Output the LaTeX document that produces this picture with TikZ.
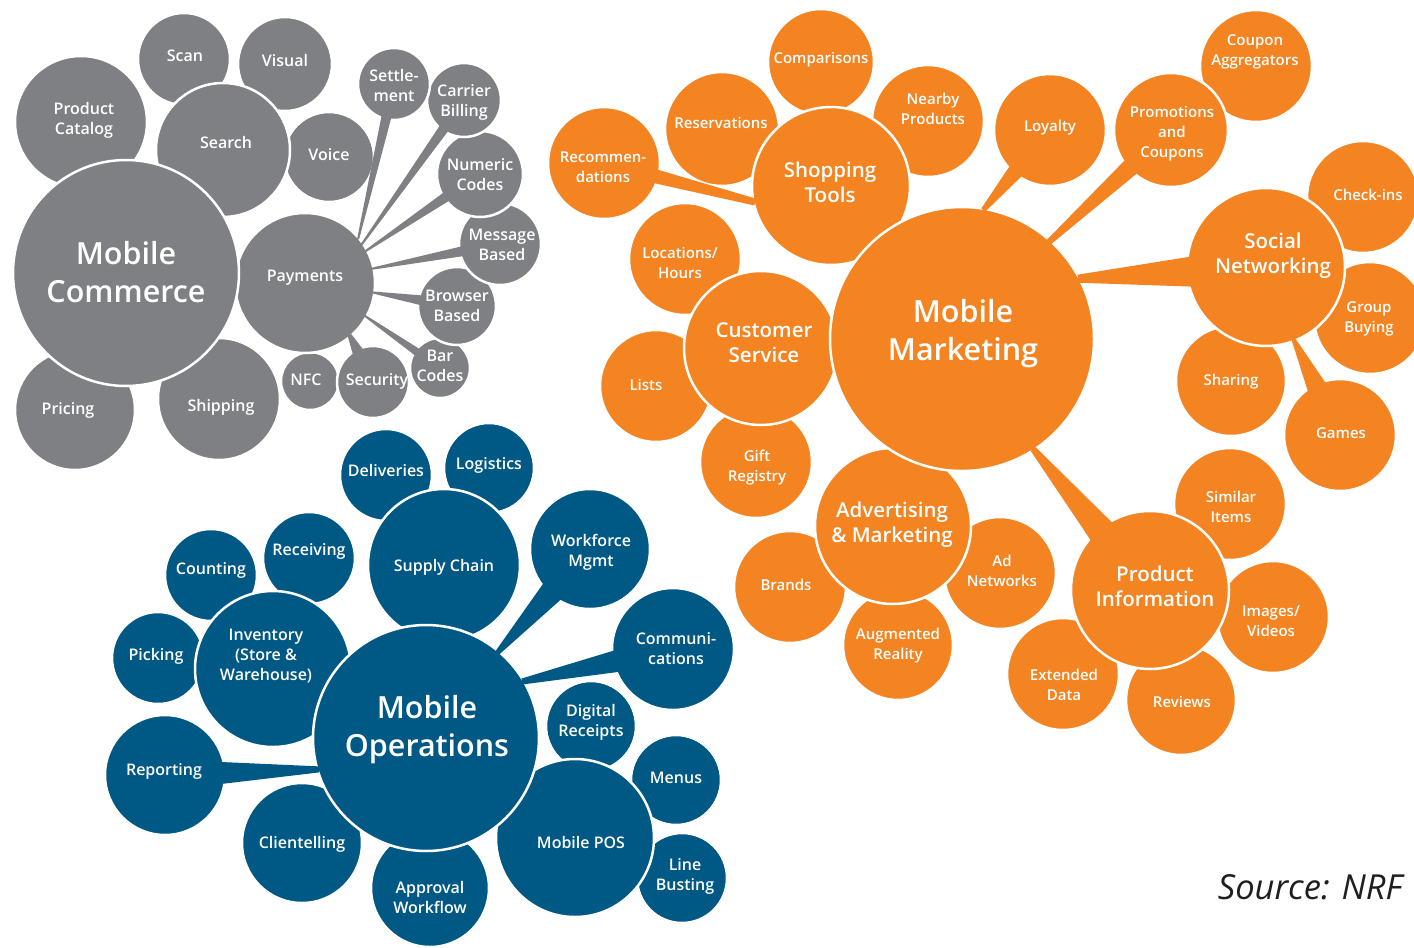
\documentclass[tikz,border=0pt]{standalone}
\usepackage{fontspec}
\setmainfont{Open Sans}
\newfontfamily\labfont{Open Sans Semibold}
\newfontfamily\hubfont{Open Sans}
\usetikzlibrary{calc}
\definecolor{cgray}{RGB}{126,128,132}
\definecolor{corange}{RGB}{244,131,33}
\definecolor{cblue}{RGB}{0,88,132}
\tikzset{
  bubble/.style={circle, draw=white, line width=2.5pt, inner sep=0pt},
  gb/.style={bubble, fill=cgray},
  ob/.style={bubble, fill=corange},
  bb/.style={bubble, fill=cblue},
  lab/.style={text=white, align=center, inner sep=0pt, font=\labfont\fontsize{16}{20}\selectfont},
  olab/.style={lab, font=\labfont\fontsize{15}{20}\selectfont},
  midlab/.style={lab, font=\labfont\fontsize{20.5}{25}\selectfont},
  hublab/.style={lab, font=\labfont\fontsize{30.5}{38}\selectfont},
  srcstyle/.style={inner sep=0pt, text=black!88, font=\itshape\fontsize{34.5}{40}\selectfont}
}
% circle style, label style, name, x, y, r, dx, dy, text
\newcommand\mybub[9]{%
  \node[#1, minimum size=#6*2pt] (#3) at (#4,#5) {};
  \node[#2] (#3t) at ($(#4,#5)+(#7,#8)$) {#9};
}
% colour, start point on hub, satellite, inset, half width at hub, half width at satellite
\newcommand\mytail[6]{%
  \coordinate (tS) at ($(#2)!-3pt!(#3)$);
  \coordinate (tE) at ($(#3)!#4pt!(#2)$);
  \fill[#1] ($(tS)!#5pt!90:(#3)$) -- ($(tS)!#5pt!-90:(#3)$) -- ($(tE)!#6pt!90:(tS)$) -- ($(tE)!#6pt!-90:(tS)$) -- cycle;
}
\begin{document}
\begin{tikzpicture}[x=1pt,y=-1pt]
\useasboundingbox (0,0) rectangle (1414,948);
\fill[white] (0,0) rectangle (1414,948);
\clip (0,0) rectangle (1414,948);
% ---------------- gray: Mobile Commerce
\mybub{gb}{lab}{scan}{184}{59}{46}{1}{-3}{Scan}
\mybub{gb}{lab}{visual}{285}{64}{47}{0}{-4}{Visual}
\mybub{gb}{lab}{prodcat}{81}{122}{66}{3}{-2}{Product\\Catalog}
\mybub{gb}{lab}{voice}{329}{157}{45}{0}{-2}{Voice}
\mybub{gb}{lab}{pricing}{75}{410}{60}{-7}{0}{Pricing}
\mybub{gb}{lab}{shipping}{219}{399}{61}{2}{8}{Shipping}
\mybub{gb}{lab}{nfc}{310}{381}{29}{-4}{-1}{NFC}
\mybub{gb}{lab}{security}{373}{382}{36}{4}{-1}{Security}
\mybub{gb}{lab}{barcodes}{440}{368}{30}{0}{-2}{Bar\\Codes}
\mybub{gb}{lab}{browser}{457}{306}{39}{0}{0}{Browser\\Based}
\mybub{gb}{lab}{message}{500}{244}{41}{2}{1}{Message\\Based}
\mybub{gb}{lab}{numeric}{480}{174}{43}{0}{1}{Numeric\\Codes}
\mybub{gb}{lab}{carrier}{464}{100}{37}{0}{2}{Carrier\\Billing}
\mybub{gb}{lab}{settle}{394}{84}{36}{0}{1}{Settle-\\ment}
\mybub{gb}{lab}{search}{223}{150}{67}{3}{-8}{Search}
\mybub{gb}{lab}{payments}{305}{283}{70}{0}{-5}{Payments}
\mybub{gb}{hublab}{mc}{126}{273}{113}{0}{-1}{Mobile\\Commerce}
\mytail{cgray}{payments.41}{settle}{32}{1}{5}
\mytail{cgray}{payments.35}{carrier}{33}{1}{5}
\mytail{cgray}{payments.28}{numeric}{39}{1}{5}
\mytail{cgray}{payments.12}{message}{37}{1}{5}
\mytail{cgray}{payments.-8}{browser}{35}{1}{5}
\mytail{cgray}{payments.-29}{barcodes}{26}{1}{4}
\mytail{cgray}{payments.-50}{security}{32}{2}{6}
% ---------------- orange: Mobile Marketing
\mybub{ob}{olab}{comparisons}{821}{62}{53}{0}{-2}{Comparisons}
\mybub{ob}{olab}{reservations}{722}{129}{57}{-1}{-6}{Reservations}
\mybub{ob}{olab}{nearby}{928}{121}{56}{5}{-12}{Nearby\\Products}
\mybub{ob}{olab}{recommendations}{604}{163}{56}{-1}{4}{Recommen-\\dations}
\mybub{ob}{olab}{loyalty}{1050}{130}{56}{0}{-2}{Loyalty}
\mybub{ob}{olab}{coupon}{1256}{66}{56}{-1}{-14}{Coupon\\Aggregators}
\mybub{ob}{olab}{promotions}{1171}{130}{57}{1}{4}{Promotions\\and\\Coupons}
\mybub{ob}{olab}{checkins}{1363}{197}{56}{5}{-2}{Check-ins}
\mybub{ob}{olab}{groupbuying}{1370}{318}{56}{-1}{1}{Group\\Buying}
\mybub{ob}{olab}{sharing}{1231}{381}{55}{0}{1}{Sharing}
\mybub{ob}{olab}{games}{1340}{435}{56}{1}{-2}{Games}
\mybub{ob}{olab}{locations}{685}{259}{56}{-5}{4}{Locations/\\Hours}
\mybub{ob}{olab}{lists}{656}{386}{56}{-10}{-1}{Lists}
\mybub{ob}{olab}{gift}{756}{462}{56}{1}{6}{Gift\\Registry}
\mybub{ob}{olab}{brands}{790}{587}{56}{-4}{-2}{Brands}
\mybub{ob}{olab}{augmented}{898}{645}{55}{0}{1}{Augmented\\Reality}
\mybub{ob}{olab}{adnet}{1000}{573}{56}{2}{-2}{Ad\\Networks}
\mybub{ob}{olab}{similar}{1230}{504}{56}{1}{3}{Similar\\Items}
\mybub{ob}{olab}{images}{1273}{617}{56}{-2}{4}{Images/\\Videos}
\mybub{ob}{olab}{extended}{1063}{674}{56}{1}{11}{Extended\\Data}
\mybub{ob}{olab}{reviews}{1181}{700}{55}{1}{2}{Reviews}
\mybub{ob}{midlab}{shopping}{831}{186}{79}{-1}{-4}{Shopping\\Tools}
\mybub{ob}{midlab}{customer}{761}{348}{77}{3}{-5}{Customer\\Service}
\mybub{ob}{midlab}{social}{1266}{267}{79}{7}{-11}{Social\\Networking}
\mybub{ob}{midlab}{advertising}{893}{526}{78}{-1}{-1}{Advertising\\\& Marketing}
\mybub{ob}{midlab}{prodinfo}{1150}{590}{79}{5}{-4}{Product\\Information}
\mybub{ob}{hublab}{mm}{962}{339}{132}{1}{-5}{Mobile\\Marketing}
\mytail{corange}{mm.80}{loyalty}{52}{2.5}{8}
\mytail{corange}{mm.48}{promotions}{53}{3}{9}
\mytail{corange}{mm.27}{social}{75}{4}{15}
\mytail{corange}{mm.-57}{prodinfo}{75}{3}{14}
\mytail{corange}{shopping.191}{recommendations}{52}{3.5}{7}
\mytail{corange}{social.-69}{games}{52}{2}{10}
% ---------------- blue: Mobile Operations
\mybub{bb}{lab}{deliveries}{386}{475}{46}{0}{-5}{Deliveries}
\mybub{bb}{lab}{logistics}{489}{468}{45}{0}{-3}{Logistics}
\mybub{bb}{lab}{receiving}{309}{558}{46}{0}{-7}{Receiving}
\mybub{bb}{lab}{counting}{211}{575}{46}{0}{-5}{Counting}
\mybub{bb}{lab}{picking}{158}{658}{46}{-2}{-2}{Picking}
\mybub{bb}{lab}{workforce}{590}{549}{60}{1}{3}{Workforce\\Mgmt}
\mybub{bb}{lab}{comm}{673}{649}{61}{3}{0}{Communi-\\cations}
\mybub{bb}{lab}{digital}{591}{726}{45}{0}{-4}{Digital\\Receipts}
\mybub{bb}{lab}{reporting}{165}{775}{60}{-1}{-4}{Reporting}
\mybub{bb}{lab}{menus}{676}{780}{45}{0}{-2}{Menus}
\mybub{bb}{lab}{clientelling}{302}{843}{60}{0}{1}{Clientelling}
\mybub{bb}{lab}{approval}{430}{888}{59}{0}{9}{Approval\\Workflow}
\mybub{bb}{lab}{linebusting}{682}{878}{45}{3}{-2}{Line\\Busting}
\mybub{bb}{lab}{supply}{444}{565}{76}{0}{2}{Supply Chain}
\mybub{bb}{lab}{inventory}{273}{669}{78}{-7}{-13}{Inventory\\(Store \&\\Warehouse)}
\mybub{bb}{lab}{mpos}{575}{838}{79}{6}{4}{Mobile POS}
\mybub{bb}{hublab}{mo}{426}{738}{113}{1}{-8}{Mobile\\Operations}
\mytail{cblue}{mo.50}{workforce}{56}{2.5}{12}
\mytail{cblue}{mo.30}{comm}{57}{3}{11}
\mytail{cblue}{mo.196}{reporting}{56}{3}{11}
% ---------------- source
\node[srcstyle] (src) at (1310,887) {Source: NRF};
\end{tikzpicture}
\end{document}
